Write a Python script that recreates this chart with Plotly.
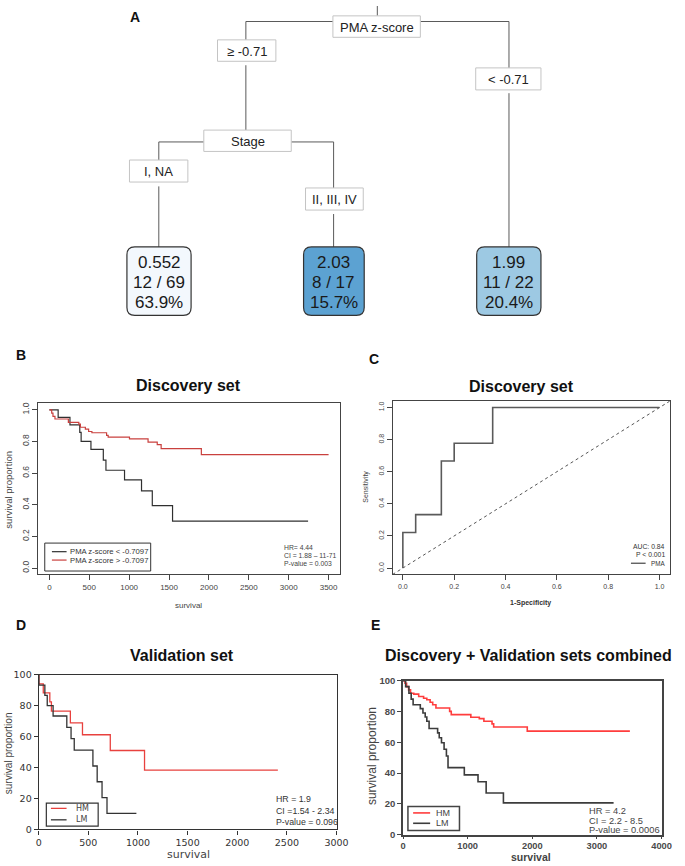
import plotly.graph_objects as go

W, H = 685, 866

# ---------------- data ----------------
# Panel A: regression tree
split_labels = ["PMA z-score", "≥ -0.71", "< -0.71", "Stage", "I, NA", "II, III, IV"]
leaf_means = ["0.552", "2.03", "1.99"]
leaf_counts = ["12 / 69", "8 / 17", "11 / 22"]
leaf_shares = ["63.9%", "15.7%", "20.4%"]
leaf_fills = ["#F3F8FD", "#5CA2D2", "#9DC9E3"]

# Panel B: Kaplan-Meier, discovery set
b_low_time = [0, 110, 258, 381, 398, 521, 676, 709, 942, 1155, 1290, 1544, 3243]
b_low_surv = [1.0, 0.952, 0.905, 0.857, 0.80, 0.75, 0.682, 0.618, 0.557, 0.488, 0.395, 0.297, 0.297]
b_high_time = [0, 29, 45, 70, 238, 369, 389, 451, 492, 533, 717, 737, 1004, 1237, 1352, 1401, 1905, 3500]
b_high_surv = [1.0, 0.979, 0.958, 0.942, 0.921, 0.91, 0.89, 0.878, 0.863, 0.855, 0.838, 0.827, 0.817,
               0.796, 0.78, 0.755, 0.717, 0.717]
b_labels = ["PMA z-score < -0.7097", "PMA z-score > -0.7097"]
b_stats = ["HR= 4.44", "CI = 1.88 – 11-71", "P-value = 0.003"]
b_xticks = [0, 500, 1000, 1500, 2000, 2500, 3000, 3500]
b_yticks = [0.0, 0.2, 0.4, 0.6, 0.8, 1.0]

# Panel C: ROC curve
roc_fpr = [0, 0, 0.05, 0.15, 0.2, 0.35, 1.0]
roc_tpr = [0, 0.222, 0.333, 0.667, 0.778, 1.0, 1.0]
c_stats = ["AUC: 0.84", "P < 0.001"]
c_ticks = [0.0, 0.2, 0.4, 0.6, 0.8, 1.0]

# Panel D: validation set
d_hm_time = [0, 2, 46, 112, 128, 319, 441, 721, 1066, 2409]
d_hm_surv = [100, 94.1, 88.2, 82.4, 76.5, 68.9, 61.2, 51.0, 38.3, 38.3]
d_lm_time = [0, 2, 62, 86, 145, 283, 326, 358, 546, 589, 638, 688, 984]
d_lm_surv = [100, 93.3, 86.7, 80.0, 73.3, 66.0, 58.7, 51.3, 41.0, 30.8, 20.5, 10.3, 10.3]
d_stats = ["HR = 1.9", "CI =1.54 - 2.34", "P-value = 0.096"]
d_xticks = [0, 500, 1000, 1500, 2000, 2500, 3000]
pct_ticks = [0, 20, 40, 60, 80, 100]

# Panel E: combined
e_hm_time = [0, 30, 55, 86, 116, 166, 242, 318, 368, 419, 459, 509, 721, 746, 1049, 1180, 1251, 1377,
             1402, 1922, 3510]
e_hm_surv = [100, 98.3, 96.1, 94.0, 91.8, 91.2, 89.7, 88.6, 87.6, 86.0, 84.3, 82.2, 80.0, 77.9, 76.2,
             75.3, 73.6, 71.9, 69.9, 67.2, 67.2]
e_lm_time = [0, 40, 91, 126, 156, 267, 308, 343, 368, 403, 535, 560, 595, 635, 671, 696, 948, 1160,
             1286, 1553, 3258]
e_lm_surv = [100, 96.1, 91.8, 88.0, 84.3, 81.8, 79.0, 76.4, 73.6, 68.9, 66.1, 62.9, 59.7, 55.4, 51.1,
             43.5, 38.8, 34.3, 27.0, 20.6, 20.6]
e_stats = ["HR = 4.2", "CI = 2.2 - 8.5", "P-value = 0.0006"]
e_xticks = [0, 1000, 2000, 3000, 4000]
group_labels = ["HM", "LM"]

# ---------------- helpers ----------------
SANS = "Liberation Sans, Arial, sans-serif"


def X(px):
    return px / W


def Y(py):
    return 1 - py / H


annotations = []
shapes = []


def txt(px, py, text, size, color="#222", bold=False, xanchor="center", angle=0, family=SANS):
    annotations.append(dict(
        x=X(px), y=Y(py), xref="paper", yref="paper", text=text, showarrow=False,
        xanchor=xanchor, yanchor="middle", textangle=angle, borderpad=0,
        font=dict(size=size, color=color, family=family, weight="bold" if bold else "normal")))


def seg(x0, y0, x1, y1, color="#555", width=1, dash="solid"):
    shapes.append(dict(type="line", xref="paper", yref="paper", x0=X(x0), y0=Y(y0), x1=X(x1), y1=Y(y1),
                       line=dict(color=color, width=width, dash=dash), layer="above"))


def rect(x0, y0, x1, y1, color="#BBBBBB", width=1, fill="white"):
    shapes.append(dict(type="rect", xref="paper", yref="paper", x0=X(x0), y0=Y(y0), x1=X(x1), y1=Y(y1),
                       line=dict(color=color, width=width), fillcolor=fill, layer="above"))


def rrect(x0, y0, x1, y1, r, fill, color="#333", width=1.2):
    a, b, c, d = X(x0), X(x1), Y(y0), Y(y1)
    rx, ry = r / W, r / H
    path = (f"M{a+rx},{c} L{b-rx},{c} Q{b},{c} {b},{c-ry} L{b},{d+ry} Q{b},{d} {b-rx},{d} "
            f"L{a+rx},{d} Q{a},{d} {a},{d+ry} L{a},{c-ry} Q{a},{c} {a+rx},{c} Z")
    shapes.append(dict(type="path", xref="paper", yref="paper", path=path, fillcolor=fill,
                       line=dict(color=color, width=width), layer="above"))


fig = go.Figure()

# ---------------- Panel A: tree ----------------
tree_line = "#5a5a5a"
seg(382.7, 0, 382.7, 10, tree_line)
seg(248.3, 15.7, 337.3, 15.7, tree_line)
seg(426.7, 15.7, 517.3, 15.7, tree_line)
seg(248.3, 15.7, 248.3, 34.3, tree_line)
seg(248.3, 60, 248.3, 125.7, tree_line)
seg(517.3, 15.7, 517.3, 62.7, tree_line)
seg(517.3, 88.3, 517.3, 244, tree_line)
seg(159.3, 137.7, 205.3, 137.7, tree_line)
seg(294.7, 137.7, 338, 137.7, tree_line)
seg(159.3, 137.7, 159.3, 156, tree_line)
seg(159.3, 182.7, 159.3, 244, tree_line)
seg(338, 137.7, 338, 184.3, tree_line)
seg(338, 210.7, 338, 244, tree_line)

split_boxes = [(337.3, 10, 426.7, 31.7), (219.3, 34.3, 279, 56), (483.3, 62.7, 550, 85),
               (205.3, 125.7, 294.7, 147.3), (129.3, 156, 189, 178.3), (309.3, 184.3, 368.3, 206.7)]
for (x0, y0, x1, y1), lab in zip(split_boxes, split_labels):
    rect(x0, y0, x1, y1, color="#C4C4C4", width=1)
    txt((x0 + x1) / 2, (y0 + y1) / 2 + 0.5, lab, 13, color="#222")

leaf_boxes = [(126.7, 244, 192.3, 313.3), (307.3, 244, 369.3, 313.3), (484.3, 244, 550, 313.3)]
for (x0, y0, x1, y1), fill, m, n, s in zip(leaf_boxes, leaf_fills, leaf_means, leaf_counts, leaf_shares):
    rrect(x0, y0, x1, y1, 8, fill)
    cx = (x0 + x1) / 2
    txt(cx, 259.5, m, 17, color="#1a1a1a")
    txt(cx, 280, n, 17, color="#1a1a1a")
    txt(cx, 300.5, s, 17, color="#1a1a1a")

txt(135, 11, "A", 14, color="#111", bold=True)

# ---------------- Panel B ----------------
b_red = "#C9403E"
b_black = "#303030"
fig.add_trace(go.Scatter(x=b_low_time, y=b_low_surv, mode="lines", line=dict(color=b_black, width=1.2, shape="hv"),
                         xaxis="x", yaxis="y", showlegend=False))
fig.add_trace(go.Scatter(x=b_high_time, y=b_high_surv, mode="lines", line=dict(color=b_red, width=1.2, shape="hv"),
                         xaxis="x", yaxis="y", showlegend=False))

# ---------------- Panel C ----------------
c_rng = [-0.04, 1.04]
fig.add_trace(go.Scatter(x=c_rng, y=c_rng, mode="lines", line=dict(color="#555", width=1, dash="dot"),
                         xaxis="x2", yaxis="y2", showlegend=False))
fig.add_trace(go.Scatter(x=roc_fpr, y=roc_tpr, mode="lines", line=dict(color="#5a5a5a", width=1.6, shape="hv"),
                         xaxis="x2", yaxis="y2", showlegend=False))

# ---------------- Panel D ----------------
d_red = "#E8413E"
d_black = "#333333"
fig.add_trace(go.Scatter(x=d_hm_time, y=d_hm_surv, mode="lines", line=dict(color=d_red, width=1.3, shape="hv"),
                         xaxis="x3", yaxis="y3", showlegend=False))
fig.add_trace(go.Scatter(x=d_lm_time, y=d_lm_surv, mode="lines", line=dict(color=d_black, width=1.3, shape="hv"),
                         xaxis="x3", yaxis="y3", showlegend=False))

# ---------------- Panel E ----------------
e_red = "#FF3D3D"
e_black = "#3C3C3C"
fig.add_trace(go.Scatter(x=e_hm_time, y=e_hm_surv, mode="lines", line=dict(color=e_red, width=1.6, shape="hv"),
                         xaxis="x4", yaxis="y4", showlegend=False))
fig.add_trace(go.Scatter(x=e_lm_time, y=e_lm_surv, mode="lines", line=dict(color=e_black, width=1.6, shape="hv"),
                         xaxis="x4", yaxis="y4", showlegend=False))


def axis(domain, rng, tickvals, ticktext, anchor, size, color="#444", family=SANS, ticklen=5,
         linecolor="#444", linewidth=1, angle=0, bold=False, standoff=None):
    d = dict(domain=domain, range=rng, tickvals=tickvals, ticktext=ticktext, anchor=anchor,
             ticks="outside", ticklen=ticklen, tickcolor=linecolor, tickwidth=1,
             showline=True, mirror=True, linecolor=linecolor, linewidth=linewidth,
             showgrid=False, zeroline=False, tickangle=angle, fixedrange=True,
             tickfont=dict(size=size, color=color, family=family, weight="bold" if bold else "normal"))
    if standoff is not None:
        d["ticklabelstandoff"] = standoff
    return d


layout = dict(
    width=W, height=H, margin=dict(l=0, r=0, t=0, b=0),
    paper_bgcolor="white", plot_bgcolor="rgba(0,0,0,0)", showlegend=False,
    xaxis=axis([X(36), X(344.3)], [-140, 3640], b_xticks, [str(v) for v in b_xticks], "y", 8),
    yaxis=axis([Y(575.7), Y(402.6)], [-0.04, 1.04], b_yticks, [f"{v:.1f}" for v in b_yticks], "x", 8.5, angle=-90),
    xaxis2=axis([X(398.3), X(681.7)], [-0.04, 1.04], c_ticks, [f"{v:.1f}" for v in c_ticks], "y2", 7),
    yaxis2=axis([Y(575.8), Y(400.2)], [-0.04, 1.04], c_ticks, [f"{v:.1f}" for v in c_ticks], "x2", 7, angle=-90),
    xaxis3=axis([X(36.5), X(341)], [0, 3000], d_xticks, [str(v) for v in d_xticks], "y3", 9.5, color="#333",
                family="DejaVu Sans, sans-serif", ticklen=4, linecolor="#333", linewidth=1.2),
    yaxis3=axis([Y(834), Y(677.3)], [0, 100], pct_ticks, [str(v) for v in pct_ticks], "x3", 9.5, color="#333",
                family="DejaVu Sans, sans-serif", ticklen=4, linecolor="#333", linewidth=1.2),
    xaxis4=axis([X(409), X(673.3)], [0, 4000], e_xticks, [str(v) for v in e_xticks], "y4", 9.3, color="#4a4a4a",
                ticklen=3, linecolor="#444", linewidth=1.5, bold=True, standoff=-2),
    yaxis4=axis([Y(839.3), Y(683.3)], [0, 100], pct_ticks, [str(v) for v in pct_ticks], "x4", 9.5, color="#4a4a4a",
                ticklen=4, linecolor="#444", linewidth=1.5, bold=True),
)

# ---- Panel B text & legend ----
txt(18.5, 353.5, "B", 14, color="#111", bold=True)
txt(190, 384, "Discovery set", 16, color="#111", bold=True)
txt(6, 490, "survival proportion", 9.5, color="#444", angle=-90)
txt(190, 607, "survival", 8, color="#444")
rect(42.7, 544, 151, 572.3, color="#333", width=1, fill="white")
seg(50, 552.7, 65, 552.7, b_black, 1.2)
seg(50, 561.2, 65, 561.2, b_red, 1.2)
txt(67.7, 552.7, b_labels[0], 7.7, color="#333", xanchor="left")
txt(67.7, 561.2, b_labels[1], 7.7, color="#333", xanchor="left")
for i, s in enumerate(b_stats):
    txt(286.7, 548.3 + 8.2 * i, s, 6.8, color="#444", xanchor="left")

# ---- Panel C text ----
txt(379.7, 358, "C", 14, color="#111", bold=True)
txt(530, 385, "Discovery set", 16, color="#111", bold=True)
txt(371, 487, "Sensitivity", 7, color="#444", angle=-90)
txt(539, 605, "1-Specificity", 7, color="#333", bold=True)
txt(678, 547.8, c_stats[0], 6.8, color="#333", xanchor="right")
txt(678, 556, c_stats[1], 6.8, color="#333", xanchor="right")
seg(642, 564.4, 657, 564.4, "#444", 1.2)
txt(678, 564.4, "PMA", 6.3, color="#333", xanchor="right")

# ---- Panel D text & legend ----
txt(18.7, 626.7, "D", 14, color="#111", bold=True)
txt(183, 658, "Validation set", 16, color="#111", bold=True)
txt(6, 757, "survival proportion", 10, color="#444", angle=-90)
txt(190, 859, "survival", 11, color="#444", family="DejaVu Sans, sans-serif")
rect(44.3, 807.3, 97.3, 830.7, color="#333", width=1.2, fill="white")
seg(49, 812.7, 65, 812.7, d_red, 1.3)
seg(49, 824.3, 65, 824.3, d_black, 1.3)
txt(74, 812.7, group_labels[0], 8, color="#444", xanchor="left", family="DejaVu Sans, sans-serif")
txt(74, 824.3, group_labels[1], 8, color="#444", xanchor="left", family="DejaVu Sans, sans-serif")
for i, s in enumerate(d_stats):
    txt(278, 803.5 + 11.4 * i, s, 8.8, color="#333", xanchor="left")

# ---- Panel E text & legend ----
txt(381.3, 627, "E", 14, color="#111", bold=True)
txt(537, 658, "Discovery + Validation sets combined", 16, color="#111", bold=True)
txt(378, 760, "survival proportion", 12, color="#444", angle=-90)
txt(540, 862, "survival", 10.5, color="#444", bold=True)
rect(414, 810.7, 466.7, 835, color="#444", width=1.5, fill="white")
seg(419.3, 817.3, 436.7, 817.3, e_red, 1.6)
seg(419.3, 827.8, 436.7, 827.8, e_black, 1.6)
txt(441.7, 817.3, group_labels[0], 9, color="#444", xanchor="left")
txt(441.7, 827.8, group_labels[1], 9, color="#444", xanchor="left")
for i, s in enumerate(e_stats):
    txt(598.3, 815.7 + 9.3 * i, s, 9.3, color="#444", xanchor="left")

layout["annotations"] = annotations
layout["shapes"] = shapes
fig.update_layout(**layout)
fig.write_html("out.html", config={"displayModeBar": False},
               post_script="document.body.style.margin='0';document.body.style.padding='0';")
